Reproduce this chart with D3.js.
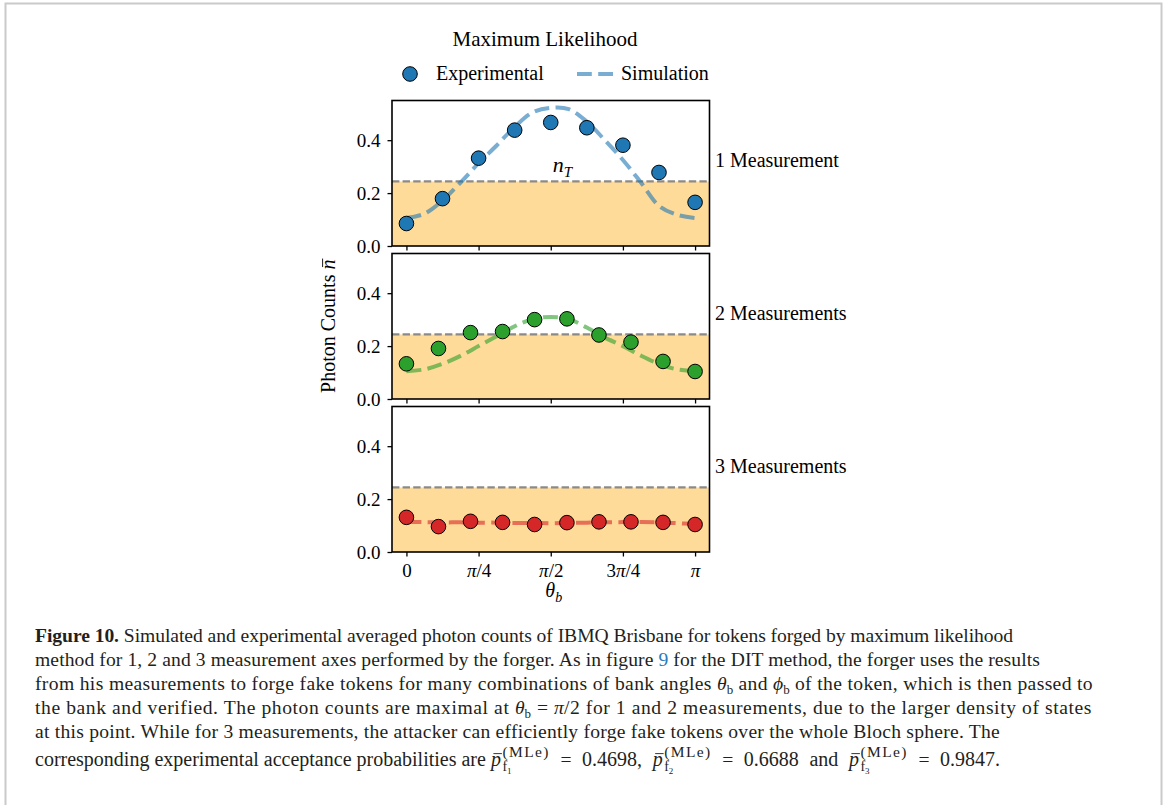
<!DOCTYPE html>
<html>
<head>
<meta charset="utf-8">
<script src="https://cdn.jsdelivr.net/npm/d3@7"></script>
<style>
  html, body { margin: 0; padding: 0; background: #fff; }
  svg { display: block; }
  text { font-family: "Liberation Serif", "DejaVu Serif", serif; }
</style>
</head>
<body>
<svg id="fig" width="1165" height="805"></svg>
<script>
// ---- data -------------------------------------------------------------
// bank angle theta_b, in units of pi
const thetaExp1 = [0, 0.125, 0.25, 0.375, 0.5, 0.625, 0.75, 0.875, 1];
const thetaExp23 = [0, 0.111, 0.222, 0.333, 0.444, 0.556, 0.667, 0.778, 0.889, 1];
const thetaSim = [0, 0.0625, 0.125, 0.1875, 0.25, 0.3125, 0.375, 0.4375, 0.5,
                  0.5625, 0.625, 0.6875, 0.75, 0.8125, 0.875, 0.9375, 1];

// experimental averaged photon counts
const exp1 = [0.085, 0.179, 0.332, 0.438, 0.467, 0.447, 0.381, 0.278, 0.165];
const exp2 = [0.133, 0.191, 0.251, 0.255, 0.300, 0.303, 0.242, 0.215, 0.142, 0.104];
const exp3 = [0.131, 0.096, 0.116, 0.112, 0.104, 0.111, 0.114, 0.114, 0.112, 0.104];

// simulated averaged photon counts
const sim1 = [0.106, 0.122, 0.172, 0.240, 0.313, 0.380, 0.450, 0.505, 0.522,
              0.517, 0.470, 0.400, 0.325, 0.240, 0.152, 0.118, 0.106];
const sim2 = [0.105, 0.112, 0.133, 0.163, 0.200, 0.237, 0.275, 0.302, 0.310,
              0.302, 0.270, 0.232, 0.200, 0.164, 0.133, 0.112, 0.105];
const sim3 = [0.113, 0.113, 0.112, 0.112, 0.111, 0.111, 0.110, 0.110, 0.109,
              0.110, 0.111, 0.112, 0.113, 0.113, 0.112, 0.109, 0.106];

// acceptance threshold n_T
const nThreshold = 0.244;

const panelLabels = ["1 Measurement", "2 Measurements", "3 Measurements"];
const yTicks = [0, 0.2, 0.4];
const xTicks = [0, 0.25, 0.5, 0.75, 1];
const xTickLabels = [["0"], ["π", "/4"], ["π", "/2"], ["3", "π", "/4"], ["π"]];
const legendLabels = ["Experimental", "Simulation"];
const figTitle = "Maximum Likelihood";

const colors = ["#1f77b4", "#2ca02c", "#d62728"];

// ---- helpers ----------------------------------------------------------
// Lays out a sequence of styled text runs left to right; supports
// italic/bold runs, raised/lowered runs, stacked sup/sub pairs, overbars
// and extra letter (ls) or word (ws) spacing for filling a line.
function layoutRuns(g, x0, y0, runs, baseSize, fill, ls, ws) {
  ls = ls || 0; ws = ws || 0;
  let x = x0, saved = x0, supEnd = x0;
  runs.forEach(r => {
    x += (r.pre || 0);
    if (r.stackStart) saved = x;
    if (r.stackRestore) { supEnd = x; x = saved; }
    const size = r.size || baseSize;
    const t = g.append("text")
      .attr("x", x).attr("y", y0 + (r.dy || 0))
      .style("white-space", "pre")
      .style("font-size", size + "px")
      .style("font-style", r.i ? "italic" : "normal")
      .style("font-weight", r.b ? "bold" : "normal")
      .attr("fill", r.fill || fill || "#000")
      .text(r.t);
    const w = t.node().getComputedTextLength();
    const l = (r.fixed ? 0 : ls) + (r.track || 0);
    const s = r.fixed ? 0 : ws;
    const nChars = Array.from(r.t).length;
    const nSpaces = (r.t.match(/ /g) || []).length;
    if (l) t.style("letter-spacing", l + "px");
    if (s && nSpaces) t.style("word-spacing", s + "px");
    if (r.over) {
      g.append("line")
        .attr("x1", x + w * 0.25).attr("x2", x + w + 1)
        .attr("y1", y0 - size * 0.62).attr("y2", y0 - size * 0.62)
        .attr("stroke", r.fill || fill || "#000").attr("stroke-width", 0.9);
    }
    x += w + nChars * l + nSpaces * s + (r.gap || 0);
    if (r.stackEnd) x = Math.max(x, supEnd);
  });
  return x - x0;
}

// Lays out a line so that it ends at xEnd, spreading either the letters
// or only the word gaps.
function layoutLine(g, x0, y0, runs, baseSize, fill, xEnd, mode) {
  const probe = g.append("g");
  const w = layoutRuns(probe, x0, y0, runs, baseSize, fill, 0, 0);
  probe.remove();
  const count = re => runs.reduce((s, r) => s + (r.fixed ? 0 : (r.t.match(re) || []).length), 0);
  if (mode === "words") {
    const n = count(/ /g);
    return layoutRuns(g, x0, y0, runs, baseSize, fill, 0, n ? (xEnd - x0 - w) / n : 0);
  }
  const n = count(/./gu);
  return layoutRuns(g, x0, y0, runs, baseSize, fill, n ? (xEnd - x0 - w) / n : 0, 0);
}

const svg = d3.select("#fig");

// page frame
svg.append("rect")
  .attr("x", 5.5).attr("y", 3.5).attr("width", 1156).attr("height", 830)
  .attr("fill", "none").attr("stroke", "#cacaca").attr("stroke-width", 2);

// ---- panels -----------------------------------------------------------
const plotLeft = 392, plotRight = 709.5;
const panelTops = [100.5, 253.5, 406.5];
const panelH = 145.5;

const x = d3.scaleLinear()
  .domain([-0.05 * Math.PI, 1.05 * Math.PI])
  .range([plotLeft, plotRight]);

const panels = [
  { exp: exp1, theta: thetaExp1, sim: sim1 },
  { exp: exp2, theta: thetaExp23, sim: sim2 },
  { exp: exp3, theta: thetaExp23, sim: sim3 }
];

const chartFont = 20;

panels.forEach((p, i) => {
  const top = panelTops[i];
  const y = d3.scaleLinear().domain([0, 0.55]).range([top + panelH, top]);
  const g = svg.append("g");

  // shaded region below the threshold
  g.append("rect")
    .attr("x", plotLeft).attr("width", plotRight - plotLeft)
    .attr("y", y(nThreshold)).attr("height", y(0) - y(nThreshold))
    .attr("fill", "#ffdb99");

  // threshold line
  g.append("line")
    .attr("x1", plotLeft).attr("x2", plotRight)
    .attr("y1", y(nThreshold)).attr("y2", y(nThreshold))
    .attr("stroke", "#808080").attr("stroke-opacity", 0.9)
    .attr("stroke-width", 2.2).attr("stroke-dasharray", "7.4,3.2");

  // simulation curve
  const line = d3.line()
    .x((d, j) => x(thetaSim[j] * Math.PI))
    .y(d => y(d))
    .curve(d3.curveCatmullRom.alpha(0.5));
  g.append("path")
    .datum(p.sim)
    .attr("d", line)
    .attr("fill", "none")
    .attr("stroke", colors[i]).attr("stroke-opacity", 0.6)
    .attr("stroke-width", 4).attr("stroke-dasharray", "14.8,6.4");

  // experimental points
  g.selectAll("circle.pt")
    .data(p.exp)
    .join("circle")
    .attr("class", "pt")
    .attr("cx", (d, j) => x(p.theta[j] * Math.PI))
    .attr("cy", d => y(d))
    .attr("r", 7.3)
    .attr("fill", colors[i])
    .attr("stroke", "#000").attr("stroke-width", 1);

  // axes
  const yAxis = d3.axisLeft(y).tickValues(yTicks).tickFormat(d3.format(".1f"))
    .tickSize(4.5).tickPadding(7);
  const ya = g.append("g").attr("transform", `translate(${plotLeft},0)`).call(yAxis);
  ya.select(".domain").remove();
  ya.selectAll(".tick line").attr("stroke", "#000").attr("stroke-width", 1.3);
  ya.selectAll(".tick text")
    .style("font-family", "Liberation Serif").style("font-size", "19px")
    .attr("fill", "#000");

  const last = i === panels.length - 1;
  const xAxis = d3.axisBottom(x).tickValues(xTicks.map(v => v * Math.PI))
    .tickSize(4.5).tickPadding(7)
    .tickFormat(last ? ((d, j) => xTickLabels[j].join("")) : () => "");
  const xa = g.append("g").attr("transform", `translate(0,${top + panelH})`).call(xAxis);
  xa.select(".domain").remove();
  xa.selectAll(".tick line").attr("stroke", "#000").attr("stroke-width", 1.3);
  if (last) {
    xa.selectAll(".tick text")
      .style("font-family", "Liberation Serif").style("font-size", "19px")
      .attr("fill", "#000")
      .each(function (d, j) {
        const t = d3.select(this).text(null);
        xTickLabels[j].forEach(s => {
          t.append("tspan").style("font-style", s === "π" ? "italic" : "normal").text(s);
        });
      });
  }

  // frame
  g.append("rect")
    .attr("x", plotLeft).attr("y", top)
    .attr("width", plotRight - plotLeft).attr("height", panelH)
    .attr("fill", "none").attr("stroke", "#000").attr("stroke-width", 1.6);

  // panel label on the right
  g.append("text")
    .attr("x", plotRight + 5.5).attr("y", y(0.3))
    .style("font-size", chartFont + "px").attr("fill", "#000")
    .text(panelLabels[i]);

  // threshold annotation in the first panel
  if (i === 0) {
    layoutRuns(g, x(Math.PI / 2) + 2, y(0.278), [
      { t: "n", i: true, size: 22 },
      { t: "T", i: true, size: 15, dy: 5 }
    ], chartFont);
  }
});

// ---- axis titles --------------------------------------------------------
const yl = svg.append("g");
const ylInner = yl.append("g");
const ylW = layoutRuns(ylInner, 0, 0, [
  { t: "Photon Counts " },
  { t: "n", i: true, over: true }
], chartFont);
ylInner.attr("transform", `translate(${-ylW / 2},0)`);
yl.attr("transform", `translate(335,${(panelTops[0] + panelTops[2] + panelH) / 2}) rotate(-90)`);

const xl = svg.append("g");
const xlInner = xl.append("g");
const xlW = layoutRuns(xlInner, 0, 0, [
  { t: "θ", i: true },
  { t: "b", i: true, size: 14, dy: 5 }
], chartFont);
xlInner.attr("transform", `translate(${-xlW / 2},0)`);
xl.attr("transform", `translate(${x(Math.PI / 2) + 3},597)`);

// ---- title and legend ----------------------------------------------------
svg.append("text")
  .attr("x", 545).attr("y", 46).attr("text-anchor", "middle")
  .style("font-size", "21px").attr("fill", "#000")
  .text(figTitle);

const lg = svg.append("g");
lg.append("circle").attr("cx", 410).attr("cy", 74).attr("r", 7.3)
  .attr("fill", colors[0]).attr("stroke", "#000").attr("stroke-width", 1);
lg.append("text").attr("x", 436).attr("y", 80)
  .style("font-size", chartFont + "px").attr("fill", "#000").text(legendLabels[0]);
lg.append("line").attr("x1", 577).attr("x2", 616).attr("y1", 74).attr("y2", 74)
  .attr("stroke", colors[0]).attr("stroke-opacity", 0.6)
  .attr("stroke-width", 4).attr("stroke-dasharray", "14.8,6.4");
lg.append("text").attr("x", 621).attr("y", 80)
  .style("font-size", chartFont + "px").attr("fill", "#000").text(legendLabels[1]);

// ---- caption ---------------------------------------------------------------
const cap = svg.append("g");
const capSize = 19.6;
const capX = 35;
const capInk = "#231f20";
const sub = (t) => ({ t, size: 13, dy: 4, fixed: true });
const eq = { t: "=", pre: 6, gap: 6, fixed: true };
const eqSp = { t: " = " };
const pbar = (k) => [
  { t: "p", i: true, size: 20, over: true, gap: 1.5, fixed: true },
  { t: "(MLe)", size: 15.5, dy: -9.5, track: 1.4, stackStart: true, fixed: true },
  { t: "f", size: 14, dy: 5, stackRestore: true, fixed: true },
  { t: k, size: 9, dy: 8, stackEnd: true, gap: 1, fixed: true }
];
const captionLines = [
  [{ t: "Figure 10.", b: true }, { t: " Simulated and experimental averaged photon counts of IBMQ Brisbane for tokens forged by maximum likelihood" }],
  [{ t: "method for 1, 2 and 3 measurement axes performed by the forger. As in figure " }, { t: "9", fill: "#2b7bbd" }, { t: " for the DIT method, the forger uses the results" }],
  [{ t: "from his measurements to forge fake tokens for many combinations of bank angles " }, { t: "θ", i: true, fixed: true }, sub("b"),
   { t: " and " }, { t: "ϕ", i: true, fixed: true }, sub("b"), { t: " of the token, which is then passed to" }],
  [{ t: "the bank and verified. The photon counts are maximal at " }, { t: "θ", i: true, fixed: true }, sub("b"),
   eq, { t: "π", i: true, fixed: true }, { t: "/2 for 1 and 2 measurements, due to the larger density of states" }],
  [{ t: "at this point. While for 3 measurements, the attacker can efficiently forge fake tokens over the whole Bloch sphere. The" }],
  [{ t: "corresponding experimental acceptance probabilities are ", size: 20, fixed: true }, ...pbar("1"), eqSp,
   { t: "0.4698, ", size: 20 }, ...pbar("2"), eqSp, { t: "0.6688 and ", size: 20 }, ...pbar("3"), eqSp,
   { t: "0.9847.", size: 20 }]
];
const capBaselines = [641.5, 665.5, 689.5, 713.5, 737.5, 766];
const capLineEnds = [1013, 1040, 1093, 1092, 1000, 1000];
const capModes = ["letters", "letters", "letters", "letters", "letters", "words"];
captionLines.forEach((runs, k) => {
  layoutLine(cap, capX, capBaselines[k], runs, capSize, capInk, capLineEnds[k], capModes[k]);
});
</script>
</body>
</html>
